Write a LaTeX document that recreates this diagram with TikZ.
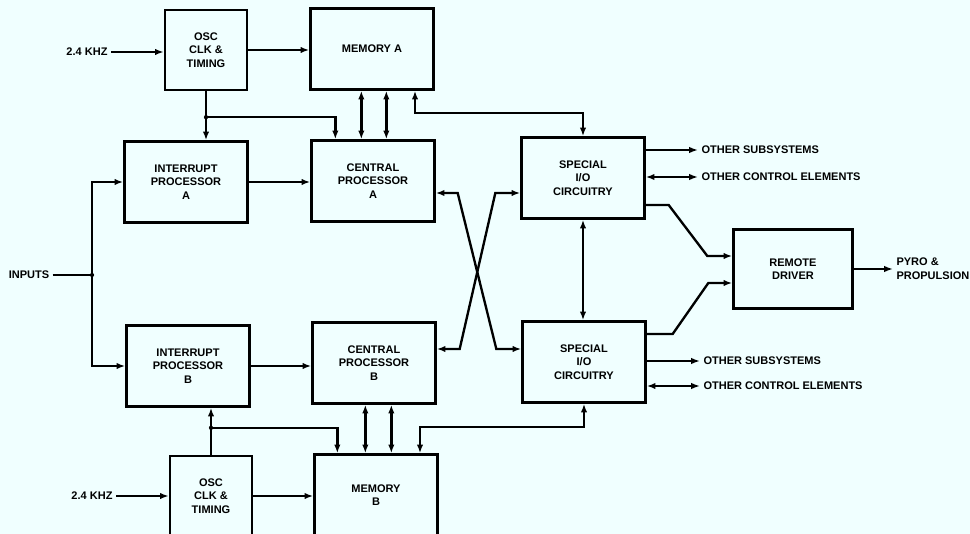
\documentclass[tikz,border=0pt]{standalone}
\usepackage{fontspec}
\setsansfont{Liberation Sans}
\usetikzlibrary{positioning}
\usetikzlibrary{calc}
\usetikzlibrary{arrows.meta}
\definecolor{paper}{RGB}{240,255,255}
\newcommand{\blkfont}{\sffamily\bfseries\fontsize{9.4}{11.6}\selectfont}

\begin{document}
\begin{tikzpicture}[x=0.03cm, y=-0.03cm, line width=2pt,
    >={Latex[length=7.5pt,width=5.5pt]},
    blk/.style={draw, rectangle, minimum width=3.69cm, minimum height=2.43cm, inner sep=0pt, align=center, font=\blkfont},
    osc/.style={blk, minimum width=2.46cm, minimum height=2.4cm},
    lbl/.style={inner sep=2pt, align=left, font=\blkfont}]
    \useasboundingbox (0,0) rectangle (970,534);
    \fill[paper] (0,0) rectangle (970,534);
    \clip (0,0) rectangle (970,534);

    % Channel A
    \node[osc] (oscA) at (206,50) {OSC\\CLK \&\\TIMING};
    \node[blk] (memA) at (372,49) {MEMORY A};
    \node[blk] (intA) at (186,182) {INTERRUPT\\PROCESSOR\\A};
    \node[blk] (cpuA) at (373,181) {CENTRAL\\PROCESSOR\\A};
    \node[blk] (sioA) at (583,178) {SPECIAL\\I/O\\CIRCUITRY};

    % Channel B
    \node[blk] (intB) at (188,366) {INTERRUPT\\PROCESSOR\\B};
    \node[blk] (cpuB) at (374,363) {CENTRAL\\PROCESSOR\\B};
    \node[blk] (sioB) at (584,362) {SPECIAL\\I/O\\CIRCUITRY};
    \node[osc] (oscB) at (211,496) {OSC\\CLK \&\\TIMING};
    \node[blk] (memB) at (376,495) {MEMORY\\B};

    % Driver
    \node[blk, minimum width=3.57cm, minimum height=2.37cm] (drv) at (793,269) {REMOTE\\DRIVER};

    % Labels
    \node[lbl] (khzA) at (87,52) {2.4 KHZ};
    \node[lbl] (khzB) at (92,496) {2.4 KHZ};
    \node[lbl] (inputs) at (29,275) {INPUTS};
    \node[lbl, anchor=west] (subA) at (698,150) {OTHER SUBSYSTEMS};
    \node[lbl, anchor=west] (ctlA) at (698,177) {OTHER CONTROL ELEMENTS};
    \node[lbl, anchor=west] (subB) at (700,361) {OTHER SUBSYSTEMS};
    \node[lbl, anchor=west] (ctlB) at (700,386) {OTHER CONTROL ELEMENTS};
    \node[lbl, anchor=west] (pyro) at (893,269) {PYRO \&\\PROPULSION};

    % Junctions
    \coordinate (jA) at ($(oscA.south)+(0,26)$);
    \coordinate (jB) at ($(oscB.north)+(0,-27)$);
    \coordinate (jin) at (92,275);
    \coordinate (busA) at (415,113);
    \coordinate (busB) at (420,427);
    \foreach \j in {jA,jB,jin} {
        \fill (\j) circle (1.8pt);
    }

    % Clock and inputs
    \draw[->] (khzA) -- (khzA -| oscA.west);
    \draw[->] (khzB) -- (khzB -| oscB.west);
    \draw[->] (oscA) -- (oscA -| memA.west);
    \draw[->] (oscB) -- (oscB -| memB.west);
    \draw[->] (oscA.south) -- (oscA.south |- intA.north);
    \draw[->] (jA) -| ($(cpuA.north west)+(25,0)$);
    \draw[->] (oscB.north) -- (oscB.north |- intB.south);
    \draw[->] (jB) -| ($(memB.north west)+(24,0)$);
    \draw (inputs) -- (jin);
    \draw[->] (jin) |- (intA.west);
    \draw[->] (jin) |- (intB.west);

    % Processor buses
    \draw[->] (intA) -- (intA -| cpuA.west);
    \draw[->] (intB) -- (intB -| cpuB.west);
    \foreach \dx in {51,76} {
        \draw[<->] ($(memA.south west)+(\dx+1,0)$) coordinate (m) -- (m |- cpuA.north);
    }
    \foreach \dx in {54,80} {
        \draw[<->] ($(cpuB.south west)+(\dx,0)$) coordinate (m) -- (m |- memB.north);
    }
    \draw[<->] (sioA.north) |- (busA) -- (busA |- memA.south);
    \draw[<->] (sioB.south) |- (busB) -- (busB |- memB.north);

    % Cross links
    \draw[<->] ($(cpuA.east)+(0,12)$) -- ++(22,0) -- ($(sioB.west)+(-25,-13)$) -- ++(25,0);
    \draw[<->] ($(cpuB.east)+(0,-14)$) -- ++(23,0) -- ($(sioA.west)+(-25,15)$) -- ++(25,0);
    \draw[<->] (sioA.south) -- (sioA.south |- sioB.north);

    % Outputs
    \draw[->] (sioA.east |- subA) -- (subA.west);
    \draw[<->] (sioA.east |- ctlA) -- (ctlA.west);
    \draw[->] (sioB.east |- subB) -- (subB.west);
    \draw[<->] (sioB.east |- ctlB) -- (ctlB.west);
    \draw[->] ($(sioA.east)+(0,27)$) -- ++(23,0) -- ($(drv.west)+(-25,-13)$) -- ++(25,0);
    \draw[->] ($(sioB.east)+(0,-28)$) -- ++(26,0) -- ($(drv.west)+(-24,14)$) -- ++(24,0);
    \draw[->] (drv) -- (drv -| pyro.west);
\end{tikzpicture}
\end{document}
